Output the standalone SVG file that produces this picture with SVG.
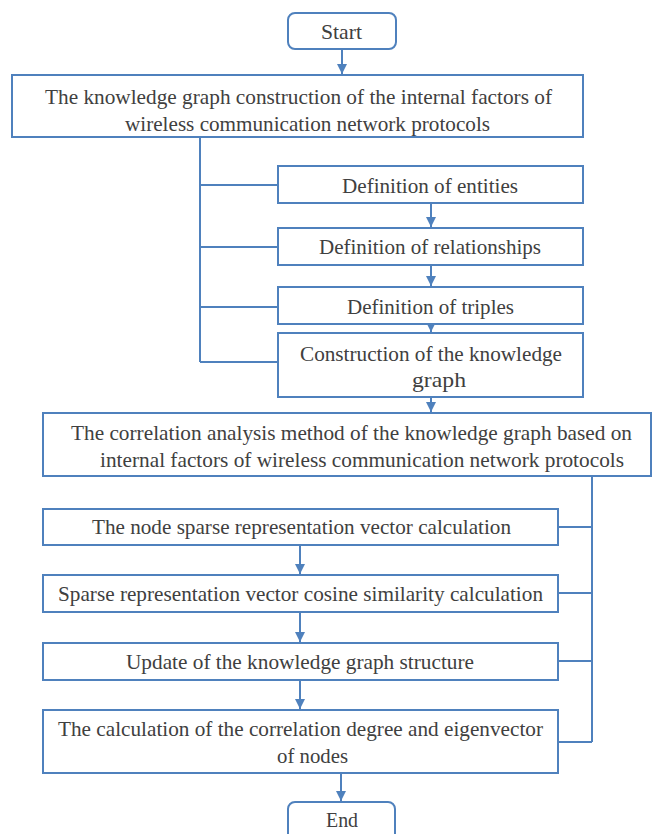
<svg xmlns="http://www.w3.org/2000/svg" width="652" height="834" viewBox="0 0 652 834" font-family="Liberation Serif, Times New Roman, serif">
  <style>
    .box { fill: #ffffff; stroke: #4f81bd; stroke-width: 2; }
    text { font-family: "Liberation Serif", "Times New Roman", serif; font-size: 21px; fill: #404040; }
    .wire { fill: none; stroke: #4f81bd; stroke-width: 2; }
    .arrow { fill: none; stroke: #4f81bd; stroke-width: 2; marker-end: url(#head); }
  </style>
  <defs>
    <marker id="head" viewBox="0 0 10 10" refX="10" refY="5" markerWidth="5" markerHeight="5" orient="auto" markerUnits="strokeWidth">
      <path d="M0,0 L10,5 L0,10 z" fill="#4f81bd"/>
    </marker>
  </defs>
  <rect width="652" height="834" fill="#ffffff"/>

  <!-- connectors -->
  <g id="connectors">
    <line class="arrow" x1="342" y1="49" x2="342" y2="74"/>
    <!-- left bracket from the construction box to its four steps -->
    <polyline class="wire" points="200,137 200,362"/>
    <line class="wire" x1="200" y1="185" x2="278" y2="185"/>
    <line class="wire" x1="200" y1="247" x2="278" y2="247"/>
    <line class="wire" x1="200" y1="307" x2="278" y2="307"/>
    <line class="wire" x1="200" y1="362" x2="278" y2="362"/>
    <line class="arrow" x1="431" y1="203" x2="431" y2="227"/>
    <line class="arrow" x1="431" y1="265" x2="431" y2="286"/>
    <line class="arrow" x1="431" y1="324" x2="431" y2="332"/>
    <line class="arrow" x1="431" y1="397" x2="431" y2="412"/>
    <!-- right bracket from the analysis box to its four steps -->
    <polyline class="wire" points="592,476 592,742"/>
    <line class="wire" x1="558" y1="527" x2="592" y2="527"/>
    <line class="wire" x1="558" y1="593" x2="592" y2="593"/>
    <line class="wire" x1="558" y1="661" x2="592" y2="661"/>
    <line class="wire" x1="558" y1="742" x2="592" y2="742"/>
    <line class="arrow" x1="300" y1="545" x2="300" y2="574"/>
    <line class="arrow" x1="300" y1="612" x2="300" y2="642"/>
    <line class="arrow" x1="300" y1="680" x2="300" y2="709"/>
    <line class="arrow" x1="341" y1="773" x2="341" y2="801"/>
  </g>

  <g id="start">
    <rect class="box" x="288" y="13" width="108" height="36" rx="7"/>
    <text x="321" y="39" textLength="41" lengthAdjust="spacingAndGlyphs">Start</text>
  </g>

  <g id="kg-construction">
    <rect class="box" x="12" y="75" width="571" height="62"/>
    <text x="45" y="104" textLength="507" lengthAdjust="spacingAndGlyphs">The knowledge graph construction of the internal factors of</text>
    <text x="125" y="131" textLength="365" lengthAdjust="spacingAndGlyphs">wireless communication network protocols</text>
  </g>

  <g id="entities">
    <rect class="box" x="278" y="166" width="305" height="37"/>
    <text x="342" y="193" textLength="176" lengthAdjust="spacingAndGlyphs">Definition of entities</text>
  </g>

  <g id="relationships">
    <rect class="box" x="278" y="228" width="305" height="37"/>
    <text x="319" y="254" textLength="222" lengthAdjust="spacingAndGlyphs">Definition of relationships</text>
  </g>

  <g id="triples">
    <rect class="box" x="278" y="287" width="305" height="37"/>
    <text x="347" y="314" textLength="167" lengthAdjust="spacingAndGlyphs">Definition of triples</text>
  </g>

  <g id="kg-build">
    <rect class="box" x="278" y="333" width="305" height="64"/>
    <text x="300" y="361" textLength="262" lengthAdjust="spacingAndGlyphs">Construction of the knowledge</text>
    <text x="412" y="387" textLength="54" lengthAdjust="spacingAndGlyphs">graph</text>
  </g>

  <g id="correlation-method">
    <rect class="box" x="43" y="413" width="608" height="63"/>
    <text x="71" y="440" textLength="561" lengthAdjust="spacingAndGlyphs">The correlation analysis method of the knowledge graph based on</text>
    <text x="100" y="467" textLength="524" lengthAdjust="spacingAndGlyphs">internal factors of wireless communication network protocols</text>
  </g>

  <g id="sparse-vector">
    <rect class="box" x="43" y="509" width="515" height="36"/>
    <text x="92" y="534" textLength="419" lengthAdjust="spacingAndGlyphs">The node sparse representation vector calculation</text>
  </g>

  <g id="cosine-similarity">
    <rect class="box" x="43" y="575" width="515" height="37"/>
    <text x="58" y="601" textLength="485" lengthAdjust="spacingAndGlyphs">Sparse representation vector cosine similarity calculation</text>
  </g>

  <g id="graph-update">
    <rect class="box" x="43" y="643" width="515" height="37"/>
    <text x="126" y="669" textLength="348" lengthAdjust="spacingAndGlyphs">Update of the knowledge graph structure</text>
  </g>

  <g id="degree-eigenvector">
    <rect class="box" x="43" y="710" width="515" height="63"/>
    <text x="58" y="736" textLength="485" lengthAdjust="spacingAndGlyphs">The calculation of the correlation degree and eigenvector</text>
    <text x="277" y="763" textLength="71" lengthAdjust="spacingAndGlyphs">of nodes</text>
  </g>

  <g id="end">
    <rect class="box" x="288" y="802" width="107" height="40" rx="7"/>
    <text x="326" y="827" textLength="32" lengthAdjust="spacingAndGlyphs">End</text>
  </g>
</svg>
